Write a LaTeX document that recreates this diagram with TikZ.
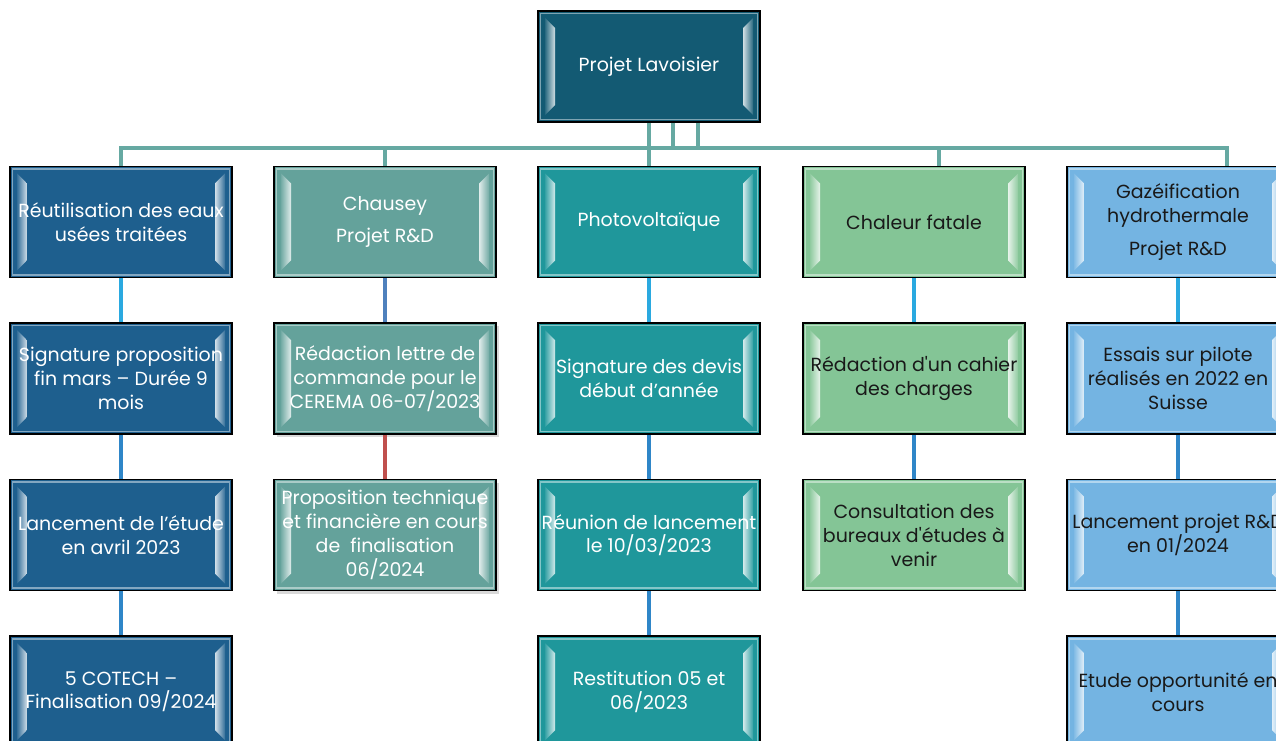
\documentclass[tikz,border=0pt]{standalone}
\usepackage{fontspec}
\setmainfont{Poppins}
\usetikzlibrary{calc,positioning,shadows}

\definecolor{topblue}{HTML}{135A73}
\definecolor{reuseblue}{HTML}{1E5F8E}
\definecolor{chauseyteal}{HTML}{64A29B}
\definecolor{pvteal}{HTML}{1F979B}
\definecolor{heatgreen}{HTML}{84C596}
\definecolor{gasblue}{HTML}{74B4E2}
\definecolor{busline}{HTML}{66A9A2}
\definecolor{linklight}{HTML}{2AA9E0}
\definecolor{linkdark}{HTML}{2F86C8}
\definecolor{linksteel}{HTML}{4F81BD}
\definecolor{linkred}{HTML}{C0504D}

\tikzset{
  box/.style={draw=black, line width=0.9pt, fill=#1, minimum width=4.44cm,
    minimum height=2.22cm, inner sep=0pt, align=center, text=white,
    font=\fontsize{10.8}{13.6}\selectfont,
    path picture={
      \draw[#1!55!white, line width=1pt]
        ($(path picture bounding box.north west)+(0.05,-0.05)$) rectangle
        ($(path picture bounding box.south east)+(-0.05,0.05)$);
      \shade[left color=#1!90!white, right color=#1!20!white]
        ($(path picture bounding box.north west)+(0.14,-0.14)$) -- ++(0.2,-0.2)
        -- ($(path picture bounding box.south west)+(0.34,0.34)$) -- ++(-0.2,-0.2) -- cycle;
      \shade[left color=#1!20!white, right color=#1!90!white]
        ($(path picture bounding box.north east)+(-0.14,-0.14)$) -- ++(-0.2,-0.2)
        -- ($(path picture bounding box.south east)+(-0.34,0.34)$) -- ++(0.2,-0.2) -- cycle;
    }},
  darktext/.style={text=black!90},
  shadowed/.style={drop shadow={opacity=0.3, shadow xshift=0.05cm, shadow yshift=-0.06cm}},
  bus/.style={draw=busline, line width=2.2pt},
  link/.style={draw=#1, line width=2.6pt},
  node distance=0.88cm
}

\begin{document}
\begin{tikzpicture}
  \useasboundingbox (0,0) rectangle (25.52,-14.82);

  % head of the tree
  \node[box=topblue] (lav) at (12.98,-1.33) {Projet Lavoisier};

  % first row: the five projects
  \node[box=reuseblue] (reu) at (2.42,-4.44) {Réutilisation des eaux\\usées traitées};
  \node[box=chauseyteal] (cha) at (7.70,-4.44) {Chausey\\[5pt]Projet R\&D};
  \node[box=pvteal] (pv) at (12.98,-4.44) {Photovoltaïque};
  \node[box=heatgreen,darktext] (fat) at (18.28,-4.44) {Chaleur fatale};
  \node[box=gasblue,darktext] (gaz) at (23.56,-4.44) {Gazéification\\hydrothermale\\[5pt]Projet R\&D};

  % second row
  \node[box=reuseblue,below=of reu] (reu2) {Signature proposition\\fin mars – Durée 9\\mois};
  \node[box=chauseyteal,shadowed,below=of cha] (cha2) {Rédaction lettre de\\commande pour le\\CEREMA 06-07/2023};
  \node[box=pvteal,below=of pv] (pv2) {Signature des devis\\début d’année};
  \node[box=heatgreen,darktext,below=of fat] (fat2) {Rédaction d\textquotesingle un cahier\\des charges};
  \node[box=gasblue,darktext,below=of gaz] (gaz2) {Essais sur pilote\\réalisés en 2022 en\\Suisse};

  % third row
  \node[box=reuseblue,below=of reu2] (reu3) {Lancement de l’étude\\en avril 2023};
  \node[box=chauseyteal,shadowed,below=of cha2] (cha3) {Proposition technique\\et financière en cours\\de~ finalisation\\06/2024};
  \node[box=pvteal,below=of pv2] (pv3) {Réunion de lancement\\le 10/03/2023};
  \node[box=heatgreen,darktext,below=of fat2] (fat3) {Consultation des\\bureaux d\textquotesingle études à\\venir};
  \node[box=gasblue,darktext,below=of gaz2] (gaz3) {Lancement projet R\&D\\en 01/2024};

  % fourth row
  \node[box=reuseblue,below=of reu3] (reu4) {5 COTECH –\\Finalisation 09/2024};
  \node[box=pvteal,below=of pv3] (pv4) {Restitution 05 et\\06/2023};
  \node[box=gasblue,darktext,below=of gaz3] (gaz4) {Etude opportunité en\\cours};

  % the bus under the head
  \coordinate (bus) at (0,-2.96);
  \coordinate (dfat) at ($(fat.north)+(0.5,0)$);
  \coordinate (dgaz) at ($(gaz.north)+(0.98,0)$);
  \coordinate (busR) at (dgaz |- bus);
  \draw[bus] (reu.north) |- (busR) -- (dgaz);
  \draw[bus] (cha.north) -- (cha.north |- bus);
  \draw[bus] (dfat) -- (dfat |- bus);
  \draw[bus] (lav.south) -- (pv.north);
  \foreach \dx in {0.48,0.98}{
    \coordinate (tap) at ($(lav.south)+(\dx,0)$);
    \draw[bus] (tap) -- (tap |- bus);
  }

  % links down each column
  \foreach \a/\b in {reu/reu2,pv/pv2,fat/fat2,gaz/gaz2}
    \draw[link=linklight] (\a) -- (\b);
  \foreach \a/\b in {reu2/reu3,reu3/reu4,pv2/pv3,pv3/pv4,fat2/fat3,gaz2/gaz3,gaz3/gaz4}
    \draw[link=linkdark] (\a) -- (\b);
  \draw[link=linksteel] (cha) -- (cha2);
  \draw[link=linkred] (cha2) -- (cha3);
\end{tikzpicture}
\end{document}
